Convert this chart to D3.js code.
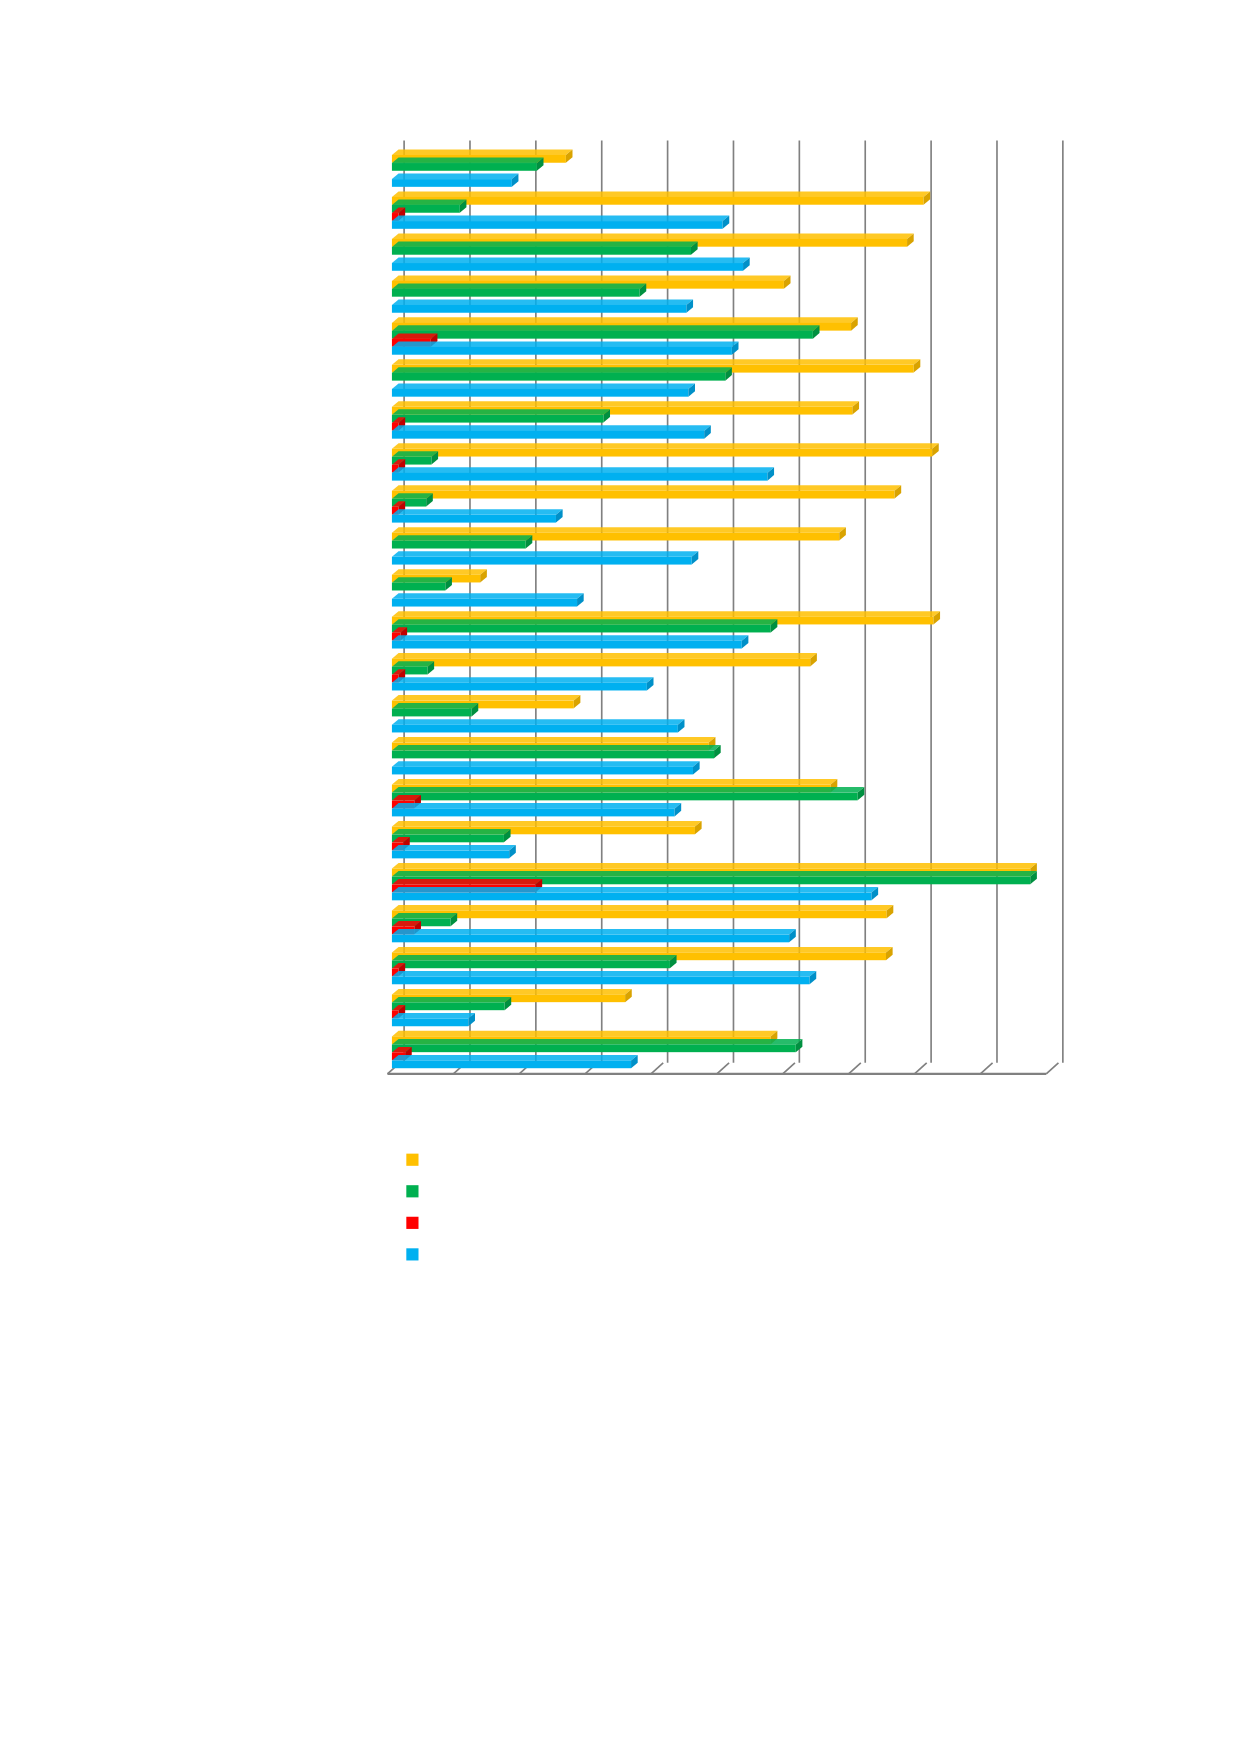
<!DOCTYPE html>
<html><head><meta charset="utf-8">
<script src="https://cdn.jsdelivr.net/npm/d3@7"></script>
<style>body{margin:0;background:#fff}</style>
</head><body>
<svg id="chart" width="1240" height="1754"></svg>
<script>
// values (0-10 grid units)
const categories = d3.range(1, 23).map(d => "c" + d);
const seriesNames = ["s1", "s2", "s3", "s4"];
const seriesColors = ["#ffc000", "#00b050", "#ff0000", "#00b0f0"];
const sideColors = ["#d9a300", "#009040", "#c00000", "#0090c8"];
const yellowVals = [2.64,8.07,7.82,5.95,6.97,7.92,6.99,8.2,7.63,6.79,1.34,8.22,6.35,2.76,4.81,6.66,4.6,9.69,7.51,7.5,3.54,5.75];
const greenVals  = [2.2,1.03,4.54,3.76,6.39,5.06,3.21,0.6,0.52,2.03,0.81,5.75,0.54,1.21,4.89,7.07,1.7,9.69,0.89,4.22,1.71,6.13];
const redVals    = [0,0.1,0,0,0.59,0,0.1,0.1,0.1,0,0,0.13,0.1,0,0,0.34,0.17,2.18,0.34,0.1,0.1,0.2];
const blueVals   = [1.82,5.02,5.33,4.47,5.16,4.5,4.74,5.7,2.49,4.55,2.81,5.31,3.87,4.34,4.57,4.29,1.78,7.28,6.03,6.34,1.16,3.63];
const allSeries = [yellowVals, greenVals, redVals, blueVals];

const k = 1240 / 1120;
const svg = d3.select("#chart").append("g").attr("transform", `scale(${k})`);
const x = d3.scaleLinear().domain([0, 10]).range([354, 949]);
const y = d3.scaleBand().domain(categories).range([134, 968]);
const ys = d3.scaleBand().domain(seriesNames).range([0, 29]);
const gdx = 11, gdy = -10; // grid depth
const bdx = 6, bdy = -5;   // bar depth
const gray = "#808080";

const g = svg.append("g");
x.ticks(10).forEach(t => {
  g.append("line").attr("x1", x(t) + gdx).attr("x2", x(t) + gdx)
    .attr("y1", 127).attr("y2", 970 + gdy).attr("stroke", gray).attr("stroke-width", 1.5);
  g.append("line").attr("x1", x(t) - 4).attr("y1", 970).attr("x2", x(t) - 4 + gdx).attr("y2", 970 + gdy)
    .attr("stroke", gray).attr("stroke-width", 1.5);
});
g.append("line").attr("x1", x(0) - 4).attr("x2", x(10) - 4).attr("y1", 970).attr("y2", 970)
  .attr("stroke", gray).attr("stroke-width", 2);

const bars = svg.append("g");
categories.forEach((c, ci) => {
  allSeries.forEach((vals, si) => {
    const v = vals[ci];
    if (v <= 0) return;
    const x0 = x(0), x1 = x(v);
    const top = y(c) + ys(seriesNames[si]) + 6;
    const h = 7;
    bars.append("polygon")
      .attr("points", [[x0, top], [x0 + bdx, top + bdy], [x1 + bdx, top + bdy], [x1, top]].join(" "))
      .attr("fill", seriesColors[si]).attr("opacity", 0.85);
    bars.append("rect").attr("x", x0).attr("y", top).attr("width", x1 - x0).attr("height", h)
      .attr("fill", seriesColors[si]);
    bars.append("polygon")
      .attr("points", [[x1, top], [x1 + bdx, top + bdy], [x1 + bdx, top + bdy + h], [x1, top + h]].join(" "))
      .attr("fill", sideColors[si]);
  });
});

const leg = svg.append("g");
seriesColors.forEach((col, i) => {
  leg.append("rect").attr("x", 367).attr("y", 1042 + i * 28.5).attr("width", 11).attr("height", 11).attr("fill", col);
});
</script>
</body></html>
